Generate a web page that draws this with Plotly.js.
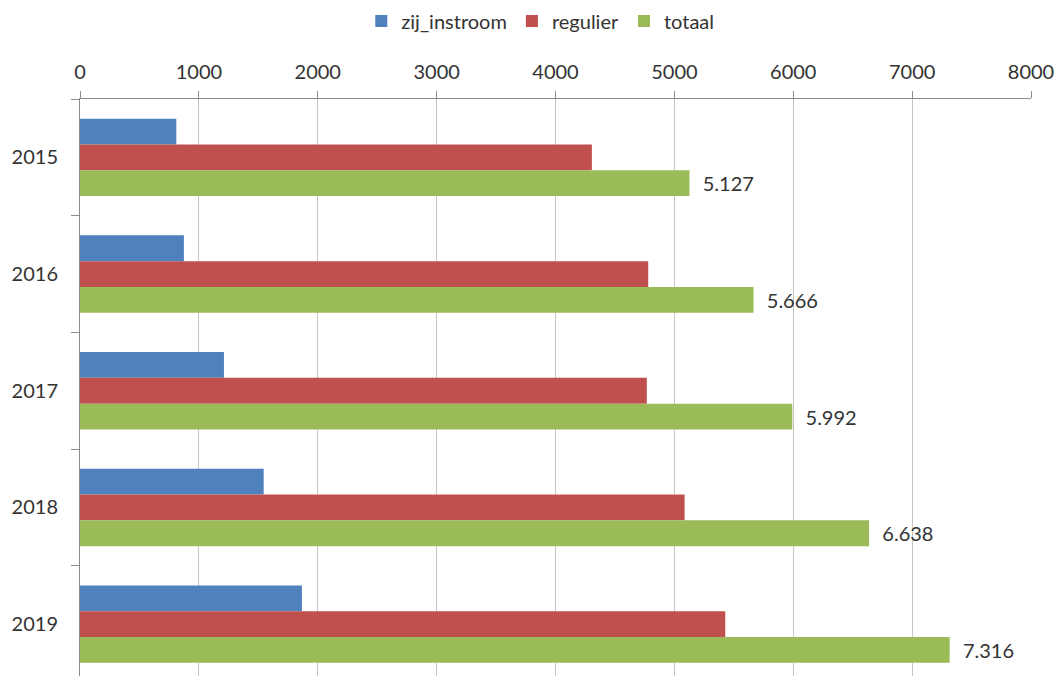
<!DOCTYPE html>
<html>
<head>
<meta charset="utf-8">
<script src="https://cdn.plot.ly/plotly-3.0.1.min.js"></script>
<style>html,body{margin:0;padding:0;background:#fff;}#chart{width:1057px;height:676px;}</style>
</head>
<body>
<div id="chart"></div>
<script>
const years = ['2015', '2016', '2017', '2018', '2019'];
const zijInstroom = [810, 874, 1211, 1545, 1867];
const regulier = [4306, 4780, 4768, 5086, 5428];
const totaal = [5127, 5666, 5992, 6638, 7316];
const xTicks = [0, 1000, 2000, 3000, 4000, 5000, 6000, 7000, 8000];

const fontFam = 'Lato, "Open Sans", sans-serif';
const txtColor = '#333333';

const traces = [
  {type: 'bar', orientation: 'h', name: 'zij_instroom', y: years, x: zijInstroom,
   marker: {color: '#4F81BD'}, hoverinfo: 'x+name'},
  {type: 'bar', orientation: 'h', name: 'regulier', y: years, x: regulier,
   marker: {color: '#C0504D'}, hoverinfo: 'x+name'},
  {type: 'bar', orientation: 'h', name: 'totaal', y: years, x: totaal,
   marker: {color: '#9BBB59'}, hoverinfo: 'x+name',
   texttemplate: '\u00a0\u00a0%{x:,}', textposition: 'outside', constraintext: 'none',
   cliponaxis: false,
   textfont: {family: fontFam, size: 20, color: txtColor}}
];

const plotH = 676 - 99;
const catPx = 116.7;

const layout = {
  width: 1057, height: 676,
  margin: {l: 80, r: 26, t: 99, b: 0, pad: 0},
  paper_bgcolor: '#ffffff', plot_bgcolor: '#ffffff',
  separators: ',.',
  barmode: 'group', bargap: 0.337, bargroupgap: 0,
  font: {family: fontFam, size: 20, color: txtColor},
  showlegend: true,
  legend: {orientation: 'h', x: 0.484, xanchor: 'center', y: 1 + 78 / plotH, yanchor: 'middle',
           font: {family: fontFam, size: 20, color: txtColor}, traceorder: 'normal'},
  xaxis: {side: 'top', range: [0, 8000], tickvals: xTicks, ticktext: xTicks.map(String),
          showgrid: true, gridcolor: '#c6c6c6', gridwidth: 1,
          showline: true, linecolor: '#8c8c8c', linewidth: 1,
          ticks: 'outside', ticklen: 7, tickcolor: '#8c8c8c', ticklabelstandoff: 4,
          zeroline: false, fixedrange: true,
          tickfont: {family: fontFam, size: 20, color: txtColor}},
  yaxis: {type: 'category', categoryorder: 'array', categoryarray: years,
          range: [-0.5 + plotH / catPx, -0.5],
          showline: true, linecolor: '#8c8c8c', linewidth: 1,
          ticks: 'outside', ticklen: 8, tickcolor: '#8c8c8c', tickson: 'boundaries',
          ticklabelstandoff: 17, showgrid: false, zeroline: false, fixedrange: true,
          tickfont: {family: fontFam, size: 20, color: txtColor}}
};

Plotly.newPlot('chart', traces, layout, {displayModeBar: false, staticPlot: true});
</script>
</body>
</html>
